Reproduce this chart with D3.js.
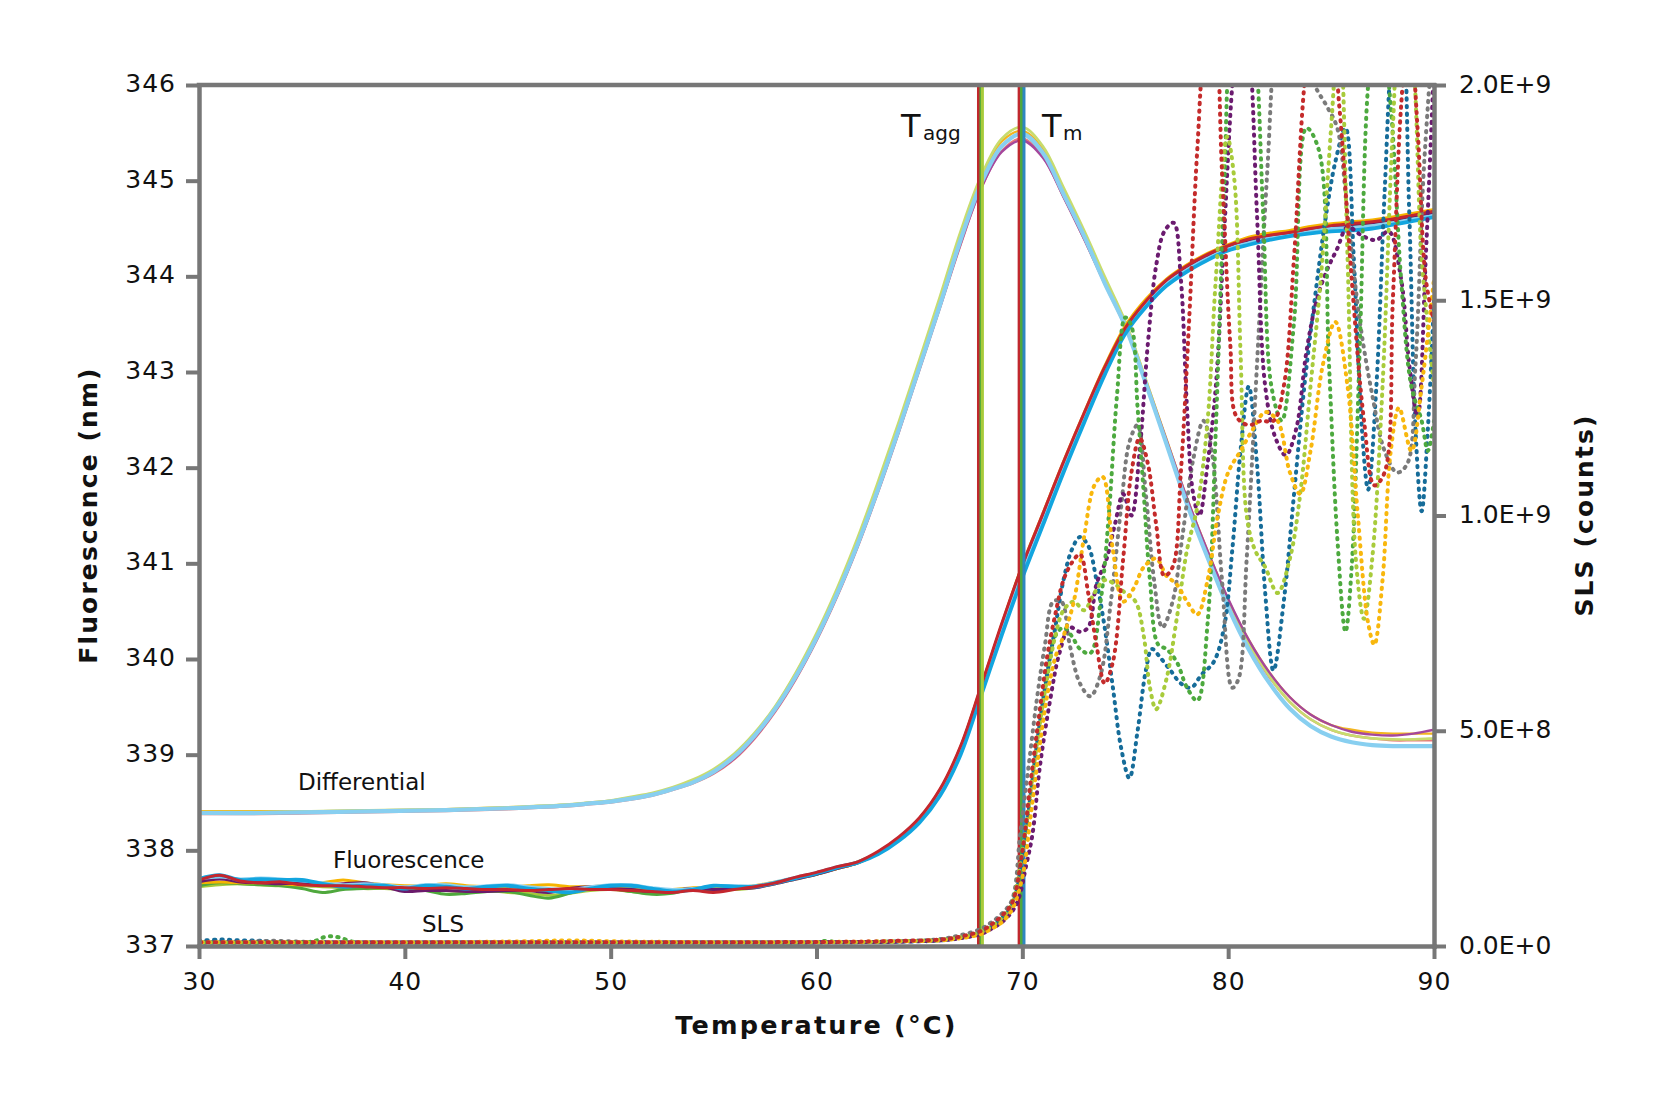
<!DOCTYPE html>
<html><head><meta charset="utf-8">
<script src="https://cdn.jsdelivr.net/npm/d3@7"></script>
<style>
html,body{margin:0;padding:0;background:#fff;}
svg{display:block;}
text{font-family:"DejaVu Sans",sans-serif;fill:#111;}
</style></head><body>
<svg id="chart" width="1659" height="1106"></svg>
<script>
// ---------------- DATA ----------------
const xTicks = [30,40,50,60,70,80,90];
const yLeftTicks = [337,338,339,340,341,342,343,344,345,346];
const yRightTicks = [0,5e8,1e9,1.5e9,2e9];
const taggTemps = [67.87,67.97,68.06];
const tmTemps = [69.83,69.96,70.08];

// Differential (left axis, nm)
const diffTemps = [30,33,36,39,42,45,48,49,50,51,52,53,54,55,56,57,58,59,60,61,62,63,64,65,66,67,68,69,70,71,72,73,74,75,76,77,78,79,80,81,82,83,84,85,86,87,88,89,90];
const diffGold = [338.41,338.41,338.41,338.42,338.43,338.45,338.48,338.5,338.52,338.55,338.59,338.65,338.73,338.84,339.0,339.22,339.5,339.85,340.25,340.72,341.24,341.83,342.45,343.1,343.76,344.44,345.02,345.41,345.52,345.33,344.9,344.46,343.98,343.52,342.92,342.3,341.68,341.13,340.62,340.2,339.86,339.6,339.42,339.31,339.26,339.23,339.22,339.22,339.22];
const diffSalmon = [338.38,338.38,338.39,338.4,338.41,338.43,338.46,338.48,338.5,338.53,338.57,338.63,338.7,338.8,338.95,339.17,339.45,339.79,340.19,340.65,341.17,341.75,342.37,343.02,343.67,344.33,344.92,345.31,345.44,345.25,344.83,344.39,343.92,343.47,342.88,342.26,341.64,341.09,340.58,340.15,339.81,339.55,339.37,339.26,339.2,339.17,339.15,339.15,339.15];
const diffYellowGreen = [338.40,338.40,338.41,338.42,338.43,338.45,338.48,338.5,338.52,338.56,338.6,338.66,338.74,338.85,339.01,339.23,339.51,339.86,340.27,340.74,341.27,341.86,342.48,343.13,343.79,344.47,345.05,345.44,345.56,345.36,344.93,344.48,344.0,343.53,342.92,342.28,341.66,341.1,340.59,340.16,339.82,339.55,339.37,339.26,339.2,339.17,339.16,339.16,339.17];
const diffMagenta = [338.39,338.39,338.4,338.41,338.42,338.44,338.47,338.49,338.51,338.54,338.58,338.64,338.71,338.81,338.96,339.18,339.46,339.8,340.2,340.66,341.18,341.76,342.38,343.03,343.68,344.34,344.92,345.3,345.42,345.24,344.83,344.39,343.93,343.48,342.9,342.29,341.68,341.13,340.63,340.2,339.86,339.6,339.42,339.31,339.24,339.21,339.2,339.22,339.26];
const diffLightBlue = [338.39,338.39,338.40,338.41,338.42,338.44,338.47,338.49,338.51,338.54,338.58,338.64,338.71,338.82,338.98,339.2,339.48,339.82,340.22,340.68,341.2,341.78,342.4,343.05,343.7,344.38,344.97,345.36,345.49,345.29,344.86,344.42,343.93,343.48,342.88,342.25,341.62,341.06,340.54,340.1,339.75,339.48,339.3,339.19,339.13,339.1,339.09,339.09,339.09];

// Fluorescence (left axis, nm)
const fluoTemps = [30,31,32,33,34,35,36,37,38,39,40,41,42,43,44,45,46,47,48,49,50,51,52,53,54,55,56,57,58,59,60,61,62,63,64,65,66,67,68,69,70,71,72,73,74,75,76,77,78,79,80,81,82,83,84,85,86,87,88,89,90];
const fluoYellowGreen = [337.62,337.64,337.65,337.64,337.63,337.63,337.62,337.61,337.60,337.60,337.59,337.59,337.58,337.57,337.58,337.56,337.55,337.53,337.55,337.58,337.59,337.57,337.55,337.56,337.59,337.58,337.59,337.61,337.65,337.7,337.75,337.81,337.87,337.97,338.12,338.32,338.62,339.07,339.7,340.35,340.97,341.5,342.04,342.55,343.03,343.45,343.73,343.94,344.09,344.21,344.31,344.38,344.42,344.45,344.49,344.52,344.54,344.56,344.59,344.63,344.67];
const fluoGreen = [337.63,337.66,337.65,337.64,337.63,337.60,337.56,337.59,337.60,337.61,337.60,337.58,337.54,337.55,337.57,337.57,337.53,337.50,337.55,337.60,337.60,337.57,337.54,337.55,337.60,337.58,337.60,337.62,337.66,337.71,337.75,337.82,337.88,337.98,338.13,338.33,338.62,339.07,339.7,340.35,340.97,341.5,342.04,342.55,343.04,343.46,343.73,343.94,344.09,344.21,344.31,344.38,344.42,344.45,344.49,344.52,344.54,344.56,344.59,344.63,344.66];
const fluoGold = [337.66,337.67,337.66,337.66,337.65,337.64,337.66,337.69,337.66,337.64,337.63,337.63,337.65,337.63,337.62,337.61,337.63,337.64,337.62,337.62,337.63,337.60,337.58,337.59,337.61,337.61,337.61,337.63,337.67,337.71,337.76,337.81,337.87,337.97,338.12,338.33,338.63,339.08,339.71,340.36,340.98,341.52,342.06,342.57,343.06,343.48,343.76,343.97,344.12,344.24,344.33,344.41,344.45,344.48,344.52,344.55,344.57,344.59,344.62,344.66,344.7];
const fluoPurple = [337.67,337.70,337.67,337.66,337.65,337.66,337.64,337.65,337.66,337.62,337.57,337.58,337.58,337.57,337.57,337.58,337.58,337.56,337.60,337.62,337.60,337.59,337.57,337.58,337.60,337.59,337.60,337.61,337.65,337.7,337.75,337.81,337.87,337.97,338.12,338.32,338.61,339.06,339.69,340.34,340.96,341.49,342.03,342.54,343.03,343.45,343.73,343.94,344.09,344.21,344.31,344.38,344.42,344.45,344.49,344.52,344.54,344.56,344.59,344.63,344.66];
const fluoLightBlue = [337.70,337.72,337.70,337.71,337.70,337.68,337.66,337.64,337.65,337.64,337.62,337.64,337.64,337.62,337.63,337.64,337.62,337.60,337.59,337.62,337.64,337.64,337.61,337.59,337.60,337.63,337.63,337.63,337.67,337.72,337.77,337.83,337.88,337.98,338.12,338.31,338.59,339.03,339.65,340.29,340.9,341.44,341.99,342.51,343.0,343.42,343.7,343.92,344.07,344.19,344.29,344.35,344.4,344.43,344.47,344.5,344.51,344.53,344.56,344.6,344.64];
const fluoCyan = [337.70,337.74,337.69,337.70,337.69,337.69,337.65,337.62,337.63,337.63,337.60,337.63,337.62,337.60,337.62,337.63,337.60,337.58,337.56,337.60,337.63,337.63,337.60,337.57,337.59,337.63,337.62,337.62,337.66,337.71,337.76,337.82,337.87,337.96,338.1,338.29,338.57,339.0,339.62,340.25,340.85,341.4,341.95,342.47,342.97,343.4,343.68,343.9,344.05,344.17,344.27,344.33,344.38,344.42,344.45,344.47,344.48,344.5,344.54,344.58,344.62];
const fluoRed = [337.69,337.74,337.68,337.66,337.67,337.64,337.63,337.63,337.62,337.61,337.61,337.60,337.61,337.60,337.59,337.59,337.58,337.59,337.60,337.59,337.59,337.58,337.57,337.56,337.58,337.56,337.59,337.62,337.66,337.72,337.77,337.83,337.88,337.99,338.14,338.34,338.64,339.09,339.72,340.37,340.98,341.52,342.06,342.57,343.05,343.46,343.74,343.96,344.11,344.23,344.32,344.39,344.43,344.46,344.5,344.53,344.55,344.57,344.6,344.64,344.68];

// SLS (right axis, [temperature, counts in units of 1E+9])
const slsTeal = [[30,0.012],[31,0.015],[32,0.013],[33,0.012],[34,0.008],[38,0.008],[42,0.008],[46,0.008],[50,0.008],[54,0.008],[58,0.008],[62,0.009],[64,0.01],[66,0.013],[67,0.02],[68,0.033],[68.5,0.045],[69,0.065],[69.5,0.095],[70,0.2],[70.4,0.35],[70.8,0.5],[71.2,0.63],[71.6,0.74],[72,0.85],[72.4,0.92],[72.8,0.95],[73.2,0.93],[73.6,0.85],[74,0.74],[74.4,0.6],[74.8,0.46],[75.2,0.39],[75.6,0.5],[76,0.64],[76.3,0.69],[76.7,0.67],[77.2,0.64],[77.7,0.61],[78.2,0.6],[78.7,0.63],[79.3,0.66],[79.8,0.74],[80.2,0.92],[80.6,1.15],[81,1.3],[81.4,1.12],[81.8,0.82],[82.2,0.64],[82.7,0.8],[83.2,1.05],[83.7,1.3],[84.2,1.5],[84.7,1.68],[85.2,1.82],[85.7,1.9],[86.1,1.6],[86.5,1.2],[86.8,1.06],[87.2,1.3],[87.6,1.75],[88,2.1],[88.4,2.2],[88.8,1.7],[89.1,1.2],[89.4,1.01],[89.7,1.2],[90,1.5]];
const slsGray = [[30,0.008],[32,0.009],[33.5,0.012],[35,0.01],[38,0.008],[42,0.008],[46,0.008],[50,0.008],[54,0.008],[58,0.008],[62,0.009],[64,0.011],[66,0.016],[67,0.025],[68,0.04],[68.5,0.055],[69,0.075],[69.5,0.107],[69.9,0.262],[70.3,0.416],[70.7,0.571],[71.1,0.7],[71.5,0.8],[71.9,0.8],[72.3,0.7],[72.8,0.61],[73.3,0.58],[73.8,0.63],[74.3,0.8],[74.8,1.02],[75.2,1.17],[75.6,1.21],[76,1.05],[76.4,0.85],[76.8,0.74],[77.3,0.8],[77.8,0.96],[78.3,1.13],[78.8,1.22],[79.2,1.15],[79.7,0.85],[80.2,0.6],[80.5,0.62],[80.9,0.9],[81.4,1.35],[81.9,1.8],[82.4,2.15],[83,2.25],[83.6,2.1],[84.2,2.0],[84.8,1.95],[85.3,1.9],[85.8,1.7],[86.4,1.45],[87,1.28],[87.6,1.15],[88.2,1.1],[88.7,1.12],[89.1,1.35],[89.5,1.8],[90,2.15]];
const slsPurple = [[30,0.008],[34,0.008],[38,0.008],[42,0.008],[46,0.008],[50,0.008],[54,0.008],[58,0.008],[62,0.009],[64,0.01],[66,0.013],[67,0.018],[68,0.028],[68.5,0.04],[69,0.055],[69.5,0.08],[69.8,0.107],[70.2,0.19],[70.5,0.262],[70.85,0.416],[71.35,0.571],[71.8,0.68],[72.3,0.74],[72.8,0.73],[73.2,0.74],[73.6,0.84],[74.1,0.9],[74.5,0.98],[74.9,1.05],[75.3,1.0],[75.7,1.15],[76.1,1.4],[76.5,1.58],[76.9,1.66],[77.35,1.68],[77.7,1.55],[78,1.25],[78.3,1.05],[78.6,1.0],[79,1.12],[79.4,1.3],[79.8,1.65],[80.2,2.0],[80.6,2.2],[81,2.1],[81.4,1.7],[81.8,1.3],[82.3,1.18],[82.8,1.14],[83.3,1.2],[83.8,1.38],[84.3,1.5],[84.8,1.57],[85.3,1.62],[85.8,1.67],[86.5,1.65],[87.2,1.64],[87.8,1.66],[88.4,1.55],[88.8,1.35],[89.2,1.23],[89.6,1.6],[90,2.05]];
const slsGreen = [[30,0.008],[34,0.008],[35.5,0.01],[36.2,0.022],[36.8,0.02],[37.5,0.01],[40,0.008],[44,0.008],[48,0.008],[52,0.008],[56,0.008],[60,0.009],[60.5,0.012],[61,0.009],[64,0.011],[66,0.014],[67,0.02],[68,0.032],[68.5,0.045],[69,0.065],[69.5,0.1],[70,0.22],[70.4,0.37],[70.8,0.52],[71.2,0.64],[71.6,0.72],[72,0.74],[72.4,0.72],[72.8,0.69],[73.3,0.68],[73.8,0.8],[74.2,1.0],[74.6,1.28],[75,1.46],[75.3,1.44],[75.6,1.25],[75.9,1.05],[76.2,0.85],[76.6,0.7],[77,0.69],[77.5,0.66],[78,0.6],[78.5,0.57],[79,0.75],[79.4,1.2],[79.8,1.75],[80.2,2.15],[80.8,2.25],[81.3,2.1],[81.7,1.7],[82.1,1.3],[82.6,1.22],[83.2,1.45],[83.8,1.9],[84.4,1.85],[84.9,1.35],[85.3,0.95],[85.7,0.73],[86,0.88],[86.4,1.4],[86.8,2.0],[87.3,2.2],[87.9,1.95],[88.4,1.55],[88.9,1.3],[89.4,1.22],[89.7,1.15],[90,1.22]];
const slsYellowGreen = [[30,0.008],[34,0.008],[38,0.008],[42,0.008],[46,0.008],[50,0.008],[54,0.008],[58,0.008],[62,0.009],[64,0.011],[66,0.014],[67,0.02],[68,0.032],[68.5,0.045],[69,0.065],[69.5,0.1],[70,0.22],[70.4,0.36],[70.8,0.5],[71.2,0.62],[71.6,0.72],[72,0.78],[72.5,0.8],[73,0.78],[73.5,0.82],[74,0.85],[74.5,0.84],[75,0.82],[75.5,0.8],[75.9,0.72],[76.2,0.6],[76.5,0.55],[77,0.62],[77.5,0.76],[78,0.92],[78.5,1.02],[79,1.22],[79.4,1.55],[79.95,1.88],[80.3,1.78],[80.6,1.38],[80.9,1.0],[81.3,0.92],[81.8,0.88],[82.4,0.82],[83,0.9],[83.5,1.05],[84,1.3],[84.5,1.55],[85,1.9],[85.4,2.15],[85.8,1.6],[86.2,0.9],[86.6,0.76],[87,0.9],[87.5,1.3],[88,1.9],[88.4,2.2],[88.9,2.1],[89.4,1.6],[90,1.3]];
const slsGold = [[30,0.009],[34,0.009],[38,0.009],[42,0.009],[46,0.011],[48,0.013],[50,0.011],[54,0.009],[58,0.009],[62,0.01],[64,0.011],[66,0.013],[67,0.018],[68,0.028],[68.5,0.04],[69,0.055],[69.5,0.085],[70,0.16],[70.4,0.3],[70.8,0.45],[71.2,0.58],[71.6,0.67],[72,0.72],[72.5,0.8],[73,0.95],[73.5,1.07],[73.9,1.09],[74.4,0.92],[74.9,0.8],[75.4,0.83],[75.9,0.88],[76.5,0.9],[77,0.86],[77.5,0.84],[78,0.8],[78.5,0.77],[79,0.85],[79.5,1.0],[80,1.1],[80.6,1.15],[81.2,1.2],[81.8,1.24],[82.4,1.22],[83,1.1],[83.5,1.05],[84,1.15],[84.6,1.35],[85.2,1.45],[85.8,1.3],[86.3,1.0],[86.8,0.75],[87.1,0.7],[87.5,0.85],[87.9,1.15],[88.3,1.25],[88.9,1.15],[89.4,1.3],[90,1.55]];
const slsRed = [[30,0.009],[34,0.009],[38,0.009],[42,0.009],[46,0.009],[50,0.009],[54,0.009],[58,0.009],[62,0.01],[64,0.012],[66,0.015],[67,0.022],[68,0.035],[68.5,0.05],[69,0.07],[69.5,0.1],[70,0.22],[70.4,0.38],[70.8,0.53],[71.2,0.67],[71.6,0.77],[72,0.85],[72.4,0.89],[72.8,0.91],[73.2,0.82],[73.6,0.7],[74,0.61],[74.4,0.66],[74.9,0.9],[75.3,1.1],[75.7,1.18],[76.1,1.12],[76.5,0.98],[76.9,0.86],[77.3,0.88],[77.7,1.1],[78.1,1.45],[78.5,1.85],[78.9,2.1],[79.3,2.15],[79.7,1.8],[80.1,1.4],[80.4,1.23],[81,1.21],[81.6,1.22],[82.2,1.22],[82.7,1.3],[83.2,1.6],[83.7,2.0],[84.2,2.2],[84.8,2.2],[85.4,1.95],[86,1.55],[86.6,1.22],[87.1,1.07],[87.6,1.1],[88,1.5],[88.4,1.95],[88.8,2.15],[89.2,1.9],[89.6,1.55],[90,1.45]];
const SLS_UNIT = 1e9;

// ---------------- CHART ----------------
const L = 199, R = 1434, T = 85, B = 946;
const axisColor = "#777777";

const svg = d3.select("#chart");
const x = d3.scaleLinear().domain([30,90]).range([L,R]);
const yL = d3.scaleLinear().domain([337,346]).range([B,T]);
const yR = d3.scaleLinear().domain([0,2e9]).range([B,T]);

svg.append("defs").append("clipPath").attr("id","plotClip")
  .append("rect").attr("x",L).attr("y",T).attr("width",R-L).attr("height",B-T);

const plot = svg.append("g").attr("clip-path","url(#plotClip)");

const lineL = (temps) => d3.line().x((d,i)=>x(temps[i])).y(d=>yL(d)).curve(d3.curveCatmullRom.alpha(0.5));

const diffSeries = [
  {v:diffGold, c:"#f3b51f", w:2.4},
  {v:diffSalmon, c:"#e8787a", w:2.4},
  {v:diffYellowGreen, c:"#c8dc6e", w:2.6},
  {v:diffMagenta, c:"#a5479c", w:2.4},
  {v:diffLightBlue, c:"#88cff0", w:4.2}
];
diffSeries.forEach(s=>{
  plot.append("path").datum(s.v).attr("fill","none").attr("stroke",s.c)
    .attr("stroke-width",s.w).attr("d",lineL(diffTemps));
});

const fluoSeries = [
  {v:fluoYellowGreen, c:"#a6c93b", w:3},
  {v:fluoGreen, c:"#4fa83d", w:3},
  {v:fluoGold, c:"#f6b400", w:3},
  {v:fluoPurple, c:"#6a1a6b", w:3},
  {v:fluoLightBlue, c:"#8ad0ef", w:3},
  {v:fluoCyan, c:"#12a5df", w:3.8},
  {v:fluoRed, c:"#c4262e", w:3}
];
fluoSeries.forEach(s=>{
  plot.append("path").datum(s.v).attr("fill","none").attr("stroke",s.c)
    .attr("stroke-width",s.w).attr("d",lineL(fluoTemps));
});

// vertical Tagg / Tm lines
const vColorsTagg = ["#c0282d","#4fa83c","#a8cb3a"];
const vColorsTm = ["#c0282d","#4fa83c","#2f86c0"];
taggTemps.forEach((t,i)=>{
  svg.append("line").attr("x1",x(t)).attr("x2",x(t)).attr("y1",T).attr("y2",B)
    .attr("stroke",vColorsTagg[i]).attr("stroke-width",i===1?2.2:3);
});
tmTemps.forEach((t,i)=>{
  svg.append("line").attr("x1",x(t)).attr("x2",x(t)).attr("y1",T).attr("y2",B)
    .attr("stroke",vColorsTm[i]).attr("stroke-width",i===0?2.4:3);
});

// SLS dotted
const plotSLS = svg.append("g").attr("clip-path","url(#plotClip)");
const lineR = d3.line().x(d=>x(d[0])).y(d=>yR(d[1]*SLS_UNIT)).curve(d3.curveCatmullRom.alpha(0.5));
const slsSeries = [
  {v:slsTeal, c:"#166c99"},
  {v:slsGray, c:"#7a7a7a"},
  {v:slsPurple, c:"#6b1b6f"},
  {v:slsGreen, c:"#4da93f"},
  {v:slsYellowGreen, c:"#a8cb3b"},
  {v:slsGold, c:"#f8b70d"},
  {v:slsRed, c:"#c42b2b"}
];
slsSeries.forEach((s,i)=>{
  plotSLS.append("path").datum(s.v).attr("fill","none").attr("stroke",s.c)
    .attr("stroke-width",4).attr("stroke-linecap","round")
    .attr("stroke-dasharray","1.3 6.2").attr("stroke-dashoffset",i*1.07)
    .attr("d",lineR);
});

// axes
function styleAxis(g){
  g.attr("font-family",null).attr("font-size",null);
  g.select(".domain").attr("stroke",axisColor).attr("stroke-width",4.5).attr("stroke-linecap","square");
  g.selectAll(".tick line").attr("stroke",axisColor).attr("stroke-width",4);
  g.selectAll(".tick text").attr("fill","#111").style("font-family","'DejaVu Sans',sans-serif").style("font-size","25px");
}
const gL = svg.append("g").attr("transform",`translate(${L},0)`)
  .call(d3.axisLeft(yL).tickValues(yLeftTicks).tickSize(13).tickSizeOuter(0).tickPadding(10).tickFormat(d3.format("d")));
styleAxis(gL);
gL.selectAll(".tick text").attr("dy",null).attr("y",6.5).style("letter-spacing","1px");

const gB = svg.append("g").attr("transform",`translate(0,${B})`)
  .call(d3.axisBottom(x).tickValues(xTicks).tickSize(13).tickSizeOuter(0).tickFormat(d3.format("d")));
styleAxis(gB);
gB.selectAll(".tick text").attr("dy",null).attr("y",44).style("letter-spacing","1px");

const gR = svg.append("g").attr("transform",`translate(${R},0)`)
  .call(d3.axisRight(yR).tickValues(yRightTicks).tickSize(12).tickSizeOuter(0).tickPadding(13)
    .tickFormat(d=>d.toExponential(1).toUpperCase()));
styleAxis(gR);
gR.selectAll(".tick text").attr("dy",null).attr("y",7);

// top frame line
svg.append("line").attr("x1",L).attr("x2",R).attr("y1",T).attr("y2",T)
  .attr("stroke",axisColor).attr("stroke-width",4.5).attr("stroke-linecap","square");

// axis titles
svg.append("text").attr("x",816.5).attr("y",1034).attr("text-anchor","middle")
  .style("font-size","25.5px").style("font-weight","bold").style("letter-spacing","2.2px")
  .text("Temperature (°C)");
svg.append("text").attr("transform","translate(97,515) rotate(-90)").attr("text-anchor","middle")
  .style("font-size","25px").style("font-weight","bold").style("letter-spacing","2.1px")
  .text("Fluorescence (nm)");
svg.append("text").attr("transform","translate(1593,515) rotate(-90)").attr("text-anchor","middle")
  .style("font-size","25px").style("font-weight","bold").style("letter-spacing","2.1px")
  .text("SLS (counts)");

// series labels
svg.append("text").attr("x",298).attr("y",790).style("font-size","23px").text("Differential");
svg.append("text").attr("x",333).attr("y",867.5).style("font-size","23px").text("Fluorescence");
svg.append("text").attr("x",422).attr("y",931.5).style("font-size","23px").text("SLS");

// Tagg / Tm labels
svg.append("text").attr("x",901).attr("y",136.5).style("font-size","32px").text("T");
svg.append("text").attr("x",923).attr("y",139.5).style("font-size","20px").text("agg");
svg.append("text").attr("x",1042).attr("y",136.5).style("font-size","32px").text("T");
svg.append("text").attr("x",1063).attr("y",139.5).style("font-size","20px").text("m");
</script></body></html>
